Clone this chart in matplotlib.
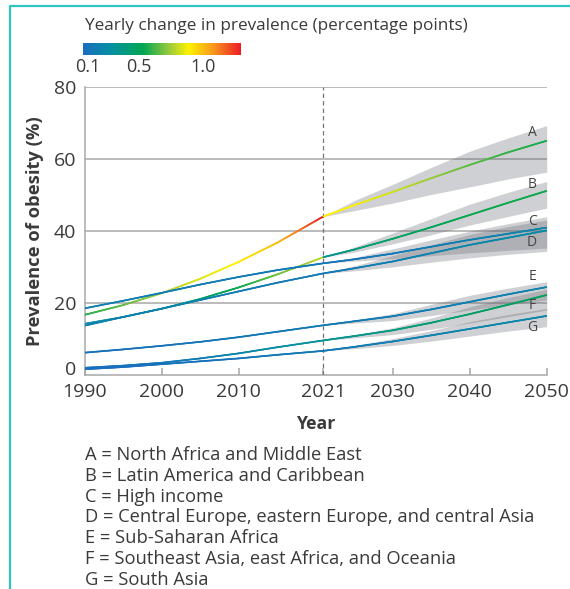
import matplotlib
matplotlib.use("Agg")
import matplotlib.pyplot as plt
import numpy as np
from matplotlib.collections import LineCollection
from matplotlib.colors import LinearSegmentedColormap, Normalize
from matplotlib.cm import ScalarMappable
from matplotlib.lines import Line2D

plt.rcParams["font.family"] = ["Open Sans", "DejaVu Sans"]
TXT = "#3a3a3a"

# estimated values (prevalence of obesity, %)
hist_years = [1990, 1995, 2000, 2005, 2010, 2015, 2021]
proj_years = [2021, 2025, 2030, 2035, 2040, 2045, 2050]
regions = ["A", "B", "C", "D", "E", "F", "G"]
region_names = [
    "North Africa and Middle East",
    "Latin America and Caribbean",
    "High income",
    "Central Europe, eastern Europe, and central Asia",
    "Sub-Saharan Africa",
    "Southeast Asia, east Africa, and Oceania",
    "South Asia",
]

hist = {
    "A": [16.7, 19.4, 22.7, 26.7, 31.4, 36.7, 44.0],
    "B": [14.2, 16.1, 18.4, 21.1, 24.3, 27.9, 32.7],
    "C": [18.5, 20.6, 22.8, 25.1, 27.2, 29.1, 31.0],
    "D": [13.7, 16.1, 18.4, 20.8, 23.2, 25.6, 28.2],
    "E": [6.2, 7.1, 8.1, 9.2, 10.5, 12.0, 13.8],
    "F": [2.0, 2.6, 3.4, 4.6, 6.0, 7.7, 9.6],
    "G": [1.6, 2.2, 3.0, 3.8, 4.6, 5.6, 6.7],
}
proj = {
    "A": [44.0, 47.1, 50.8, 54.6, 58.3, 61.8, 65.0],
    "B": [32.7, 34.8, 37.8, 41.0, 44.4, 47.8, 51.1],
    "C": [31.0, 32.1, 33.7, 35.6, 37.5, 39.2, 40.9],
    "D": [28.2, 29.6, 31.5, 33.8, 36.1, 38.1, 40.1],
    "E": [13.8, 14.9, 16.3, 18.2, 20.3, 22.4, 24.4],
    "F": [9.6, 10.8, 12.4, 14.5, 16.9, 19.5, 22.2],
    "G": [6.7, 7.8, 9.3, 11.0, 12.8, 14.6, 16.4],
}
proj_lo = {
    "A": [44.0, 45.6, 47.7, 50.1, 52.2, 54.4, 56.3],
    "B": [32.7, 34.1, 36.4, 38.9, 41.6, 44.0, 46.3],
    "C": [31.0, 31.6, 32.3, 33.1, 33.9, 34.6, 35.2],
    "D": [28.2, 28.9, 30.0, 31.3, 32.5, 33.5, 34.3],
    "E": [13.8, 14.4, 15.1, 16.5, 18.0, 19.5, 20.8],
    "F": [9.6, 10.3, 11.2, 12.7, 14.4, 16.2, 18.0],
    "G": [6.7, 7.3, 8.2, 9.4, 10.8, 12.2, 13.4],
}
proj_hi = {
    "A": [44.0, 48.4, 52.9, 57.6, 62.1, 65.8, 69.2],
    "B": [32.7, 35.5, 39.4, 43.4, 47.4, 50.7, 53.7],
    "C": [31.0, 32.6, 35.0, 37.5, 39.9, 42.0, 43.9],
    "D": [28.2, 30.3, 33.1, 36.1, 39.0, 41.2, 43.0],
    "E": [13.8, 15.3, 17.0, 19.6, 22.1, 24.1, 25.9],
    "F": [9.6, 11.1, 13.1, 15.8, 18.9, 21.5, 23.8],
    "G": [6.7, 8.2, 10.1, 12.3, 14.8, 16.8, 18.5],
}
# yearly change (percentage points)
hist_rate = {
    "A": [0.58, 0.66, 0.76, 0.84, 0.9, 1.0, 1.3],
    "B": [0.25, 0.3, 0.36, 0.45, 0.55, 0.68, 0.8],
    "C": [0.18, 0.18, 0.17, 0.16, 0.15, 0.14, 0.13],
    "D": [0.2, 0.2, 0.2, 0.18, 0.16, 0.15, 0.14],
    "E": [0.1, 0.1, 0.11, 0.12, 0.13, 0.14, 0.15],
    "F": [0.08, 0.1, 0.13, 0.17, 0.22, 0.26, 0.3],
    "G": [0.07, 0.08, 0.09, 0.1, 0.12, 0.13, 0.14],
}
proj_rate = {
    "A": [0.9, 0.88, 0.82, 0.74, 0.66, 0.6, 0.56],
    "B": [0.3, 0.4, 0.48, 0.52, 0.54, 0.55, 0.55],
    "C": [0.12, 0.12, 0.14, 0.16, 0.18, 0.2, 0.22],
    "D": [0.14, 0.16, 0.18, 0.2, 0.22, 0.24, 0.25],
    "E": [0.15, 0.15, 0.16, 0.17, 0.18, 0.19, 0.2],
    "F": [0.32, 0.34, 0.38, 0.42, 0.46, 0.48, 0.5],
    "G": [0.14, 0.15, 0.17, 0.19, 0.21, 0.22, 0.22],
}
label_y = {"A": 67.2, "B": 52.8, "C": 42.5, "D": 36.7, "E": 27.2, "F": 19.2, "G": 13.1}
cbar_ticks = [0.1, 0.5, 1.0]

cmap = LinearSegmentedColormap.from_list(
    "change",
    [(0.0, "#1a6cc0"), (0.17, "#068fa4"), (0.38, "#00a651"), (0.55, "#9ccb3b"),
     (0.67, "#fff200"), (0.83, "#f7941d"), (1.0, "#ed1c24")],
)
norm = Normalize(vmin=0.06, vmax=1.3)

W, H = 570, 589
fig = plt.figure(figsize=(W / 100, H / 100), dpi=100)
ax = fig.add_axes([84.7 / W, 1 - 375 / H, 462 / W, 288.3 / H])


def colored_line(years, vals, rates):
    t = np.union1d(np.linspace(years[0], years[-1], 300), years)
    y = np.interp(t, years, vals)
    r = np.interp(t, years, rates)
    pts = np.column_stack([t, y])
    segs = np.stack([pts[:-1], pts[1:]], axis=1)
    lc = LineCollection(segs, cmap=cmap, norm=norm, linewidths=1.2,
                        capstyle="round", zorder=4)
    lc.set_array((r[:-1] + r[1:]) / 2)
    ax.add_collection(lc)


for k in regions:
    ax.fill_between(proj_years, proj_lo[k], proj_hi[k], color=(0.40, 0.41, 0.45),
                    alpha=0.31, linewidth=0, zorder=2)
for k in regions:
    colored_line(hist_years, hist[k], hist_rate[k])
    colored_line(proj_years, proj[k], proj_rate[k])
    ax.text(2048.1, label_y[k], k, ha="center", va="center", fontsize=10,
            color="#444444", zorder=5)

ax.axvline(2021, color="#777777", lw=0.9, ls=(0, (3.5, 2.5)), zorder=3)

ax.set_xlim(1990, 2050)
ax.set_ylim(0, 80)
ax.set_xticks([1990, 2000, 2010, 2021, 2030, 2040, 2050])
ax.set_yticks([0, 20, 40, 60, 80])
for y in [20, 40, 60, 80]:
    ax.axhline(y, color="#a8a8a8", lw=1.1, zorder=1)
ax.tick_params(axis="x", direction="in", length=5, width=1.1, color="#a8a8a8",
               labelsize=14, labelcolor=TXT, pad=6)
ax.tick_params(axis="y", length=0, labelsize=14, labelcolor=TXT, pad=6)
ax.get_yticklabels()[0].set_verticalalignment("baseline")
for s in ["top", "right"]:
    ax.spines[s].set_visible(False)
for s in ["left", "bottom"]:
    ax.spines[s].set_color("#a8a8a8")
    ax.spines[s].set_linewidth(1.1)
ax.set_xlabel("Year", fontsize=12.7, fontweight="bold", color=TXT, labelpad=10)
ax.set_ylabel("Prevalence of obesity (%)", fontsize=13.2, fontweight="bold",
              color=TXT, labelpad=7)

# colour scale
cax = fig.add_axes([83 / W, 1 - 55 / H, 158 / W, 12 / H])
cb = fig.colorbar(ScalarMappable(norm=norm, cmap=cmap), cax=cax,
                  orientation="horizontal")
cb.outline.set_visible(False)
cb.set_ticks(cbar_ticks)
cb.set_ticklabels(["0.1", "0.5", "1.0"])
cax.tick_params(length=0, labelsize=13, labelcolor=TXT, pad=2)
fig.text(85 / W, 1 - 26 / H, "Yearly change in prevalence (percentage points)",
         fontsize=12.3, color=TXT, va="center", ha="left")

# key
for i, (k, name) in enumerate(zip(regions, region_names)):
    fig.text(85 / W, 1 - (455 + 20.8 * i) / H, f"{k} = {name}", fontsize=13.2,
             color=TXT, va="center", ha="left")

# teal frame
fig.add_artist(Line2D([9.5 / W, 9.5 / W, 1], [0, 1 - 6 / H, 1 - 6 / H],
                      transform=fig.transFigure, color="#2ec4c0", lw=1.6))

fig.savefig("out.png", dpi=100)
